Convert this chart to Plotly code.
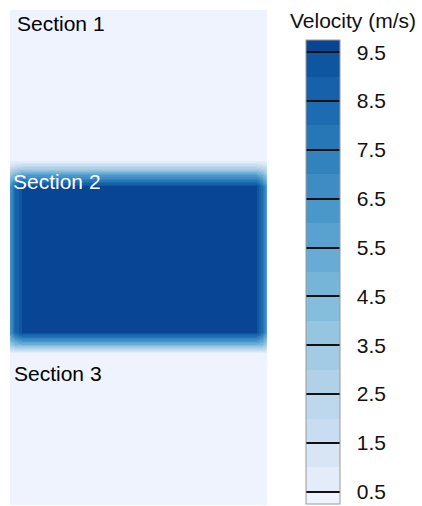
import plotly.graph_objects as go

# ---- data -------------------------------------------------------------
# grid positions (mm across the duct, mm down from the top of the domain)
x_pos = [0, 5, 12, 246, 252, 257]
y_pos = [0, 150, 157, 165, 176, 322, 334, 343, 495]

# velocity magnitude (m/s), rows follow y_pos
velocity = [
    [0.3, 0.3, 0.3, 0.3, 0.3, 0.3],
    [0.3, 0.3, 0.3, 0.3, 0.3, 0.3],
    [1.5, 2.0, 2.5, 2.5, 2.0, 1.5],
    [4.0, 5.0, 6.0, 6.0, 5.0, 3.5],
    [6.5, 8.5, 9.6, 9.6, 8.0, 5.5],
    [6.5, 8.5, 9.6, 9.6, 8.0, 5.5],
    [3.5, 4.5, 5.0, 5.0, 4.5, 3.0],
    [0.3, 0.3, 0.3, 0.3, 0.3, 0.3],
    [0.3, 0.3, 0.3, 0.3, 0.3, 0.3],
]

# colour levels of the legend (band edges, m/s) and band colours
level_edges = [0.25, 0.5, 1.0, 1.5, 2.0, 2.5, 3.0, 3.5, 4.0, 4.5, 5.0,
               5.5, 6.0, 6.5, 7.0, 7.5, 8.0, 8.5, 9.0, 9.5, 9.75]
band_colors = ["#eef3fe", "#e3ecf9", "#d7e5f5", "#c9ddf0", "#bdd7ec",
               "#b0d1e7", "#a3cbe3", "#95c5e0", "#85bddc", "#76b4d8",
               "#68abd4", "#59a1ce", "#4a97c9", "#3e8cc3", "#3282bd",
               "#2777b7", "#1d6cb1", "#1661a9", "#0f56a0", "#084594"]

tick_values = [0.5, 1.5, 2.5, 3.5, 4.5, 5.5, 6.5, 7.5, 8.5, 9.5]
tick_labels = ["0.5", "1.5", "2.5", "3.5", "4.5", "5.5", "6.5", "7.5", "8.5", "9.5"]

section_names = ["Section 1", "Section 2", "Section 3"]
section_x = [4.7, 0.7, 2.0]
section_y = [13, 171.5, 363.3]
section_colors = ["black", "white", "black"]

# ---- build ------------------------------------------------------------
zmin, zmax = level_edges[0], level_edges[-1]
colorscale = []
for i, c in enumerate(band_colors):
    a = (level_edges[i] - zmin) / (zmax - zmin)
    b = (level_edges[i + 1] - zmin) / (zmax - zmin)
    colorscale.append([a, c])
    colorscale.append([b, c])

FONT = "Arial, Liberation Sans, sans-serif"
FS = 21
W, H = 422, 506
ML, MT, PW, PH = 10, 10, 257, 495   # plot area in pixels

fig = go.Figure(
    go.Heatmap(
        x=x_pos, y=y_pos, z=velocity,
        zmin=zmin, zmax=zmax, colorscale=colorscale,
        zsmooth="best",
        colorbar=dict(
            x=(306 - ML) / PW, xanchor="left",
            y=(MT + PH - 40) / PH, yanchor="top",
            lenmode="pixels", len=464,
            thickness=34, thicknessmode="pixels",
            xpad=0, ypad=0,
            outlinecolor="#9a9a9a", outlinewidth=1,
            tickmode="array", tickvals=tick_values,
            ticktext=["\u00a0\u00a0" + t for t in tick_labels],
            ticks="inside", ticklen=34, tickwidth=1.6, tickcolor="#111111",
            tickfont=dict(family=FONT, size=FS, color="#111111"),
        ),
        hoverinfo="skip",
    )
)

for name, xx, yy, col in zip(section_names, section_x, section_y, section_colors):
    fig.add_annotation(
        x=xx, y=yy, xref="x", yref="y", text=name,
        showarrow=False, xanchor="left", yanchor="middle",
        font=dict(family=FONT, size=FS, color=col),
    )

fig.add_annotation(
    x=(353 - ML) / PW, y=(MT + PH - 20) / PH, xref="paper", yref="paper",
    text="Velocity (m/s)", showarrow=False, xanchor="center", yanchor="middle",
    font=dict(family=FONT, size=FS, color="#111111"),
)

fig.update_xaxes(visible=False, range=[x_pos[0], x_pos[-1]])
fig.update_yaxes(visible=False, range=[y_pos[-1], y_pos[0]])
fig.update_layout(
    width=W, height=H,
    margin=dict(l=ML, r=W - ML - PW, t=MT, b=H - MT - PH),
    paper_bgcolor="white", plot_bgcolor="white",
    showlegend=False,
)

fig.write_html("out.html")
